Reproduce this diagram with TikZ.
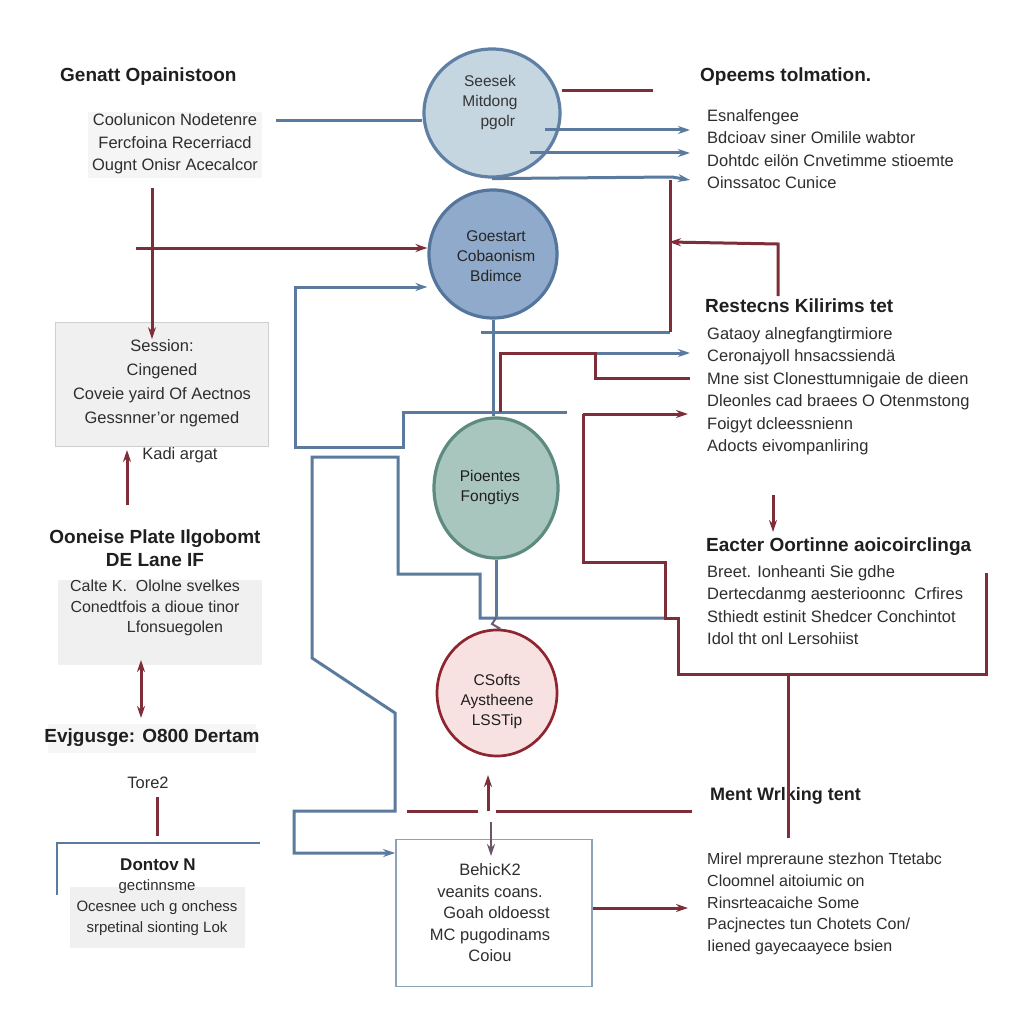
\documentclass[tikz,border=0pt]{standalone}
\usepackage{fontspec}
\setmainfont{Liberation Sans}
\usetikzlibrary{shapes.geometric,arrows.meta}
\definecolor{rd}{HTML}{7D2E38}
\definecolor{bl}{HTML}{5B7B9E}
\definecolor{tx}{HTML}{1F1F1F}
\definecolor{bodytx}{HTML}{2E2E2E}
\definecolor{boxgray}{HTML}{F0F0F0}
\definecolor{boxline}{HTML}{CFCFCF}
\definecolor{cAfill}{HTML}{C6D6E1}
\definecolor{cAline}{HTML}{5F80A4}
\definecolor{cBfill}{HTML}{8FAACB}
\definecolor{cBline}{HTML}{55769C}
\definecolor{cCfill}{HTML}{A9C6BE}
\definecolor{cCline}{HTML}{5E8B81}
\definecolor{cDfill}{HTML}{F7E1E1}
\definecolor{cDline}{HTML}{8E2531}
\definecolor{boxblue}{HTML}{8EA2B8}
\begin{document}
\begin{tikzpicture}[x=1pt,y=-1pt,
  hd/.style={font=\fontsize{19}{23}\selectfont\bfseries, text=tx, inner sep=0},
  bd/.style={font=\fontsize{16.5}{22.5}\selectfont, text=bodytx, inner sep=0},
  ct/.style={font=\fontsize{15.5}{20}\selectfont, text=tx, inner sep=0, align=center},
  bline/.style={draw=bl, line width=3pt},
  rline/.style={draw=rd, line width=3pt},
  circ/.style={ellipse, line width=3.2pt, inner sep=0},
  >={Stealth[length=12pt,width=8pt]}]
\fill[white] (0,0) rectangle (1023,1024);
\useasboundingbox (0,0) rectangle (1023,1024);

% ---------- background boxes ----------
\fill[boxgray!70] (88,112) rectangle (262,178);
\filldraw[fill=boxgray, draw=boxline, line width=1pt] (55,322) rectangle (268,446);
\fill[boxgray] (58,580) rectangle (262,665);
\fill[boxgray!60] (48,724) rectangle (256,753);
\fill[boxgray] (70,887) rectangle (245,948);
\draw[bline, line width=2.2pt] (260,843) -- (57,843) -- (57,895);

% ---------- left column texts ----------
\node[hd, anchor=west] (h1) at (60,77) {Genatt Opainistoon};
\node[bd, align=center] (t1) at (175,144) {Coolunicon Nodetenre\\Fercfoina Recerriacd\\Ougnt Onisr Acecalcor};
\node[bd, align=center, font=\fontsize{16.5}{24}\selectfont] (t2) at (162,383) {Session:\\Cingened\\Coveie yaird Of Aectnos\\Gessnner'or ngemed};
\node[bd] (t3) at (180,455) {Kadi argat};
\node[hd, align=center] (h2) at (155,548) {Ooneise Plate Ilgobomt\\DE Lane IF};
\node[bd, align=center, font=\fontsize{16}{20.5}\selectfont] (t4) at (155,608) {Calte K.\ \ Ololne svelkes\\Conedtfois a dioue tinor\\\hspace*{2.5em}Lfonsuegolen};
\node[hd] (h3) at (152,738) {Evjgusge: O800 Dertam};
\node[bd] (t5) at (148,783) {Tore2};
\node[hd, font=\fontsize{17}{20}\selectfont\bfseries] (h4) at (158,865) {Dontov N};
\node[bd, align=center, font=\fontsize{15}{21}\selectfont] (t6) at (157,908) {gectinnsme\\Ocesnee uch g onchess\\srpetinal sionting Lok};

% ---------- circles ----------
\node[circ, fill=cAfill, draw=cAline, minimum width=136pt, minimum height=128pt] (c1) at (492,113) {};
\node[ct, text=tx!90] at (490,102) {Seesek\\Mitdong\\\hspace*{1em}pgolr};
\node[circ, fill=cBfill, draw=cBline, minimum width=128pt, minimum height=128pt] (c2) at (493,254) {};
\node[ct, text=black!85] at (496,256) {Goestart\\Cobaonism\\Bdimce};
\node[circ, fill=cCfill, draw=cCline, minimum width=124pt, minimum height=140pt] (c3) at (496,488) {};
\node[ct] at (490,487) {Pioentes\\Fongtiys};
\node[circ, fill=cDfill, draw=cDline, line width=2.7pt, minimum width=120pt, minimum height=126pt] (c4) at (497,693) {};
\node[ct] at (497,701) {CSofts\\Aystheene\\LSSTip};

% ---------- bottom centre box ----------
\node[draw=boxblue, line width=1.8pt, fill=white, minimum width=196pt, minimum height=147pt, inner sep=0] (bx) at (494,913) {};
\node[bd, align=center, font=\fontsize{16.5}{21.5}\selectfont] (bt) at (490,913) {BehicK2\\veanits coans.\\\hspace*{0.8em}Goah oldoesst\\MC pugodinams\\Coiou};

% ---------- right column texts ----------
\node[hd, anchor=west] (h5) at (700,77) {Opeems tolmation.};
\node[bd, anchor=west, align=left] (r1) at (707,149) {Esnalfengee\\Bdcioav siner Omilile wabtor\\Dohtdc eilön Cnvetimme stioemte\\Oinssatoc Cunice};
\node[hd, anchor=west] (h6) at (705,306) {Restecns Kilirims tet};
\node[bd, anchor=west, align=left] (r2) at (707,391) {Gataoy alnegfangtirmiore\\Ceronajyoll hnsacssiendä\\Mne sist Clonesttumnigaie de dieen\\Dleonles cad braees O Otenmstong\\Foigyt dcleessnienn\\Adocts eivompanliring};
\node[hd, anchor=west] (h7) at (706,547) {Eacter Oortinne aoicoirclinga};
\node[bd, anchor=west, align=left] (r3) at (707,605) {Breet. Ionheanti Sie gdhe\\Dertecdanmg aesterioonnc\ \ Crfires\\Sthiedt estinit Shedcer Conchintot\\Idol tht onl Lersohiist};
\node[hd, anchor=west, font=\fontsize{18}{20}\selectfont\bfseries] (h8) at (710,796) {Ment Wrlking tent};
\node[bd, anchor=west, align=left, font=\fontsize{16}{21.8}\selectfont] (r4) at (707,904) {Mirel mpreraune stezhon Ttetabc\\Cloomnel aitoiumic on\\Rinsrteacaiche Some\\Pacjnectes tun Chotets Con/\\Iiened gayecaayece bsien};

% ---------- named free ends ----------
\coordinate (a1) at (276,121);
\coordinate (e1) at (690,130);
\coordinate (e2) at (690,153);
\coordinate (e3) at (690,180);
\coordinate (e4) at (653,91);
\coordinate (j1) at (670,332);
\coordinate (j2) at (481,332);
\coordinate (k1) at (567,412);
\coordinate (k2) at (295,287);
\coordinate (m1) at (595,353);
\coordinate (m2) at (690,353);
\coordinate (m3) at (690,378);
\coordinate (n1) at (583,414);
\coordinate (n2) at (688,414);
\coordinate (q1) at (665,618);
\coordinate (s1) at (407,811);
\coordinate (s2) at (692,811);
\coordinate (u1) at (152,188);
\coordinate (u2) at (136,248);

% ---------- blue connectors ----------
\draw[bline] (a1) -- (c1.west |- a1);
\draw[bline, ->] (545,130) -- (e1);
\draw[bline, ->] (530,153) -- (e2);
\draw[bline, ->] (c1.south) -- (672,177) -- (e3);
\draw[bline] (j2) -- (j1);
\draw[bline] (c2.south) -- (c2.south |- c3.north);
\draw[bline, ->] (k1) -- (403,412) -- (403,447) -- (295,447) -- (k2) -- (c2.west |- k2);
\draw[bline, ->] (m1) -- (m2);
\draw[bline, ->] (q1) -- (480,618) -- (480,574) -- (398,574) -- (398,457) -- (312,457)
   -- (312,658) -- (395,713) -- (395,811) -- (294,811) -- (294,853) -- (bx.west |- 0,853);
\draw[bline] (c3.south) -- (c3.south |- q1);
\draw[draw=bl!60!rd, line width=2pt] (c3.south |- q1) -- (492,624) -- (499,628) -- (c4.north);

% ---------- red connectors ----------
\draw[rline, ->] (u1) -- (u1 |- t2.north);
\draw[rline, ->] (u2) -- (c2.west |- u2);
\draw[rline, ->] (127,505) -- (127,450);
\draw[rline, <->] (141,660) -- (141,718);
\draw[rline] (157,797) -- (157,836);
\draw[rline] (c1.east |- 0,91) -- (e4);
\draw[rline, ->] (778,296) -- (778,244) -- (669,242);
\draw[rline] (670,180) -- (j1);
\draw[rline] (500,412) -- (500,353) -- (m1) -- (595,378) -- (m3);
\draw[rline, ->] (n1) -- (n2);
\draw[rline] (n1) -- (583,562) -- (665,562) -- (q1) -- (678,618) -- (678,674) -- (986,674) -- (986,573);
\draw[rline, ->] (773,495) -- (773,532);
\draw[rline] (788,674) -- (788,838);
\draw[rline] (s1) -- (478,811);
\draw[rline] (496,811) -- (s2);
\draw[rline, ->] (488,811) -- (488,775);
\draw[draw=bl!50!rd, line width=2pt, ->] (491,822) -- (491,856);
\draw[rline, ->] (bx.east |- 0,908) -- (688,908);
\end{tikzpicture}
\end{document}
